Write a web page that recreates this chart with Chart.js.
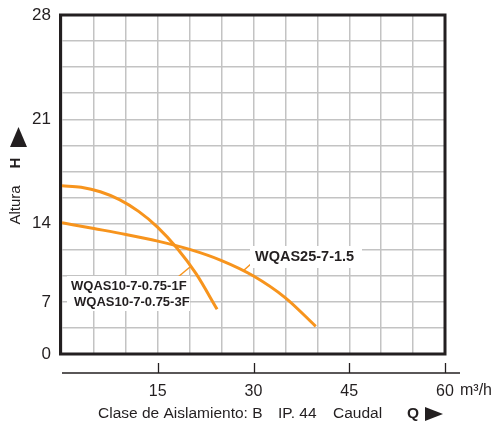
<!DOCTYPE html>
<html>
<head>
<meta charset="utf-8">
<script src="https://cdn.jsdelivr.net/npm/chart.js@4/dist/chart.umd.min.js"></script>
<style>
html,body{margin:0;padding:0;background:#fff;}
#wrap{width:497px;height:426px;position:relative;}
</style>
</head>
<body>
<div id="wrap"><canvas id="c" width="497" height="426"></canvas></div>
<script>
// ---- data (Q in m³/h, H in m, read against the chart's printed labels) ----
const seriesNames = ['WQAS10-7-0.75-1F / 3F', 'WQAS25-7-1.5'];
const q10 = [0, 3, 6, 9, 12, 15, 18, 21, 24.3];
const h10 = [16.54, 16.44, 16.14, 15.61, 14.82, 13.67, 11.82, 9.52, 6.0];
const q25 = [0, 5, 10, 15, 20, 25, 30, 35, 39.75];
const h25 = [14.06, 13.56, 13.03, 12.43, 11.69, 10.69, 9.31, 7.36, 3.72];
// gridline values of the height axis as printed (labels 0,7,14,21,28 sit on uneven lines)
const yGridValues = [0, 3.5, 7, 9.333, 11.667, 14, 15.75, 17.5, 19.25, 21, 22.75, 24.5, 26.25, 28];
const yTickLabels = [0, 7, 14, 21, 28];
const xTickLabels = [15, 30, 45, 60];

const ORANGE = '#F7941D';
const DARK = '#231f20';
const GRID = '#c3c3c3';
const FONT = '"Liberation Sans", Arial, Helvetica, sans-serif';

function toGrid(v){
  for (let i = 1; i < yGridValues.length; i++) {
    if (v <= yGridValues[i]) return i - 1 + (v - yGridValues[i-1]) / (yGridValues[i] - yGridValues[i-1]);
  }
  return yGridValues.length - 1;
}
class GridLinearScale extends Chart.LinearScale {
  buildTicks(){ return yGridValues.map(v => ({value: v})); }
  getPixelForValue(v){ return this.getPixelForDecimal(toGrid(v) / (yGridValues.length - 1)); }
  getValueForPixel(p){
    const g = this.getDecimalForPixel(p) * (yGridValues.length - 1);
    const i = Math.max(0, Math.min(yGridValues.length - 2, Math.floor(g)));
    return yGridValues[i] + (g - i) * (yGridValues[i+1] - yGridValues[i]);
  }
}
GridLinearScale.id = 'gridlinear';
GridLinearScale.defaults = Chart.LinearScale.defaults;
Chart.register(GridLinearScale);

const pts = (xs, ys) => xs.map((x, i) => ({x: x, y: ys[i]}));

const deco = {
  id: 'deco',
  beforeDatasetsDraw(chart){
    const {ctx, chartArea: a} = chart;
    ctx.save();
    ctx.strokeStyle = DARK;
    ctx.lineWidth = 3;
    ctx.strokeRect(a.left - 1.5, a.top, a.right - a.left + 1.5, a.bottom - a.top);
    ctx.restore();
  },
  afterDatasetsDraw(chart){
    const {ctx} = chart;
    ctx.save();
    // leader lines
    ctx.strokeStyle = ORANGE; ctx.lineWidth = 1.5;
    ctx.beginPath(); ctx.moveTo(178, 277); ctx.lineTo(190, 267); ctx.stroke();
    ctx.beginPath(); ctx.moveTo(243, 271); ctx.lineTo(252, 263); ctx.stroke();
    // label boxes
    ctx.fillStyle = '#fff';
    ctx.fillRect(67, 276, 123, 35);
    ctx.fillRect(250, 246, 112, 22);
    ctx.fillStyle = DARK;
    ctx.textAlign = 'left'; ctx.textBaseline = 'middle';
    ctx.font = 'bold 13px ' + FONT;
    ctx.fillText('WQAS10-7-0.75-1F', 71, 286);
    ctx.fillText('WQAS10-7-0.75-3F', 74, 302.5);
    ctx.font = 'bold 14.5px ' + FONT;
    ctx.fillText('WQAS25-7-1.5', 255, 257);
    ctx.restore();
  },
  afterDraw(chart){
    const {ctx, scales} = chart;
    const xs = scales.x;
    ctx.save();
    // lower axis line with upward ticks
    const yl = 373;
    ctx.strokeStyle = DARK; ctx.lineWidth = 1.3;
    ctx.beginPath(); ctx.moveTo(xs.getPixelForValue(0), yl); ctx.lineTo(460, yl); ctx.stroke();
    xTickLabels.forEach(v => {
      const px = Math.round(xs.getPixelForValue(v)) + 0.5;
      ctx.beginPath(); ctx.moveTo(px, yl - 10); ctx.lineTo(px, yl); ctx.stroke();
    });
    ctx.fillStyle = DARK;
    ctx.textBaseline = 'middle'; ctx.textAlign = 'left';
    ctx.font = '16px ' + FONT;
    ctx.fillText('m³/h', 460, 391);
    // bottom title
    const ty = 414;
    ctx.font = '15.5px ' + FONT;
    ctx.fillText('Clase de Aislamiento: B', 98, ty);
    ctx.fillText('IP. 44', 278, ty);
    ctx.fillText('Caudal', 333, ty);
    ctx.font = 'bold 15.5px ' + FONT;
    ctx.fillText('Q', 407, ty);
    ctx.beginPath(); ctx.moveTo(425, 407); ctx.lineTo(443, 414); ctx.lineTo(425, 421); ctx.closePath(); ctx.fill();
    // vertical title
    ctx.save();
    ctx.translate(16, 205); ctx.rotate(-Math.PI / 2);
    ctx.textAlign = 'center';
    ctx.font = '15px ' + FONT;
    ctx.fillText('Altura', 0, 0);
    ctx.restore();
    ctx.save();
    ctx.translate(16, 163); ctx.rotate(-Math.PI / 2);
    ctx.textAlign = 'center';
    ctx.font = 'bold 15px ' + FONT;
    ctx.fillText('H', 0, 0);
    ctx.restore();
    ctx.beginPath(); ctx.moveTo(18.5, 127); ctx.lineTo(27, 147); ctx.lineTo(10, 147); ctx.closePath(); ctx.fill();
    ctx.restore();
  }
};

new Chart(document.getElementById('c'), {
  type: 'line',
  data: {
    datasets: [
      { label: seriesNames[0], data: pts(q10, h10), borderColor: ORANGE, borderWidth: 3, pointRadius: 0, cubicInterpolationMode: 'monotone', fill: false },
      { label: seriesNames[1], data: pts(q25, h25), borderColor: ORANGE, borderWidth: 3, pointRadius: 0, cubicInterpolationMode: 'monotone', fill: false }
    ]
  },
  options: {
    responsive: false,
    animation: false,
    devicePixelRatio: 1,
    layout: { padding: { left: 0, right: 52, top: 15, bottom: 0 } },
    plugins: { legend: { display: false }, tooltip: { enabled: false }, title: { display: false } },
    scales: {
      x: {
        type: 'linear', min: 0, max: 60,
        afterFit(s){ s.height = 72; s.paddingLeft = 0; s.paddingRight = 0; },
        border: { display: false },
        grid: { color: GRID, lineWidth: 1.5, drawTicks: false },
        ticks: {
          stepSize: 5, autoSkip: false, maxRotation: 0, padding: 28,
          color: DARK, font: { family: FONT, size: 16 },
          callback: v => xTickLabels.includes(v) ? String(v) : ''
        }
      },
      y: {
        type: 'gridlinear', min: 0, max: 28,
        afterFit(s){ s.width = 62; s.paddingTop = 0; s.paddingBottom = 0; },
        border: { display: false },
        grid: { color: GRID, lineWidth: 1.5, drawTicks: false },
        ticks: {
          autoSkip: false, padding: 11,
          color: DARK, font: { family: FONT, size: 17 },
          callback: v => { const m = yTickLabels.find(t => Math.abs(t - v) < 0.01); return m === undefined ? '' : String(m); }
        }
      }
    }
  },
  plugins: [deco]
});
</script>
</body>
</html>
